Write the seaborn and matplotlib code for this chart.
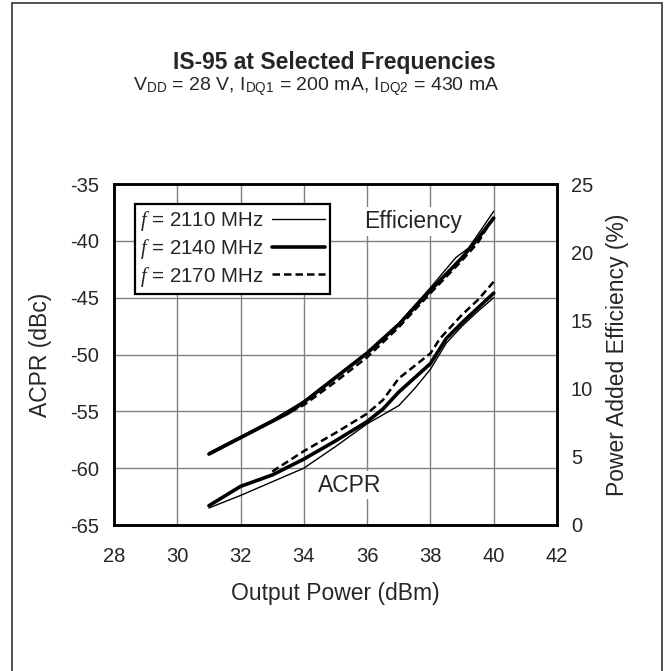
import numpy as np
import pandas as pd
import matplotlib
matplotlib.use("Agg")
import matplotlib.pyplot as plt
from matplotlib.lines import Line2D
from matplotlib.patches import Rectangle
import seaborn as sns

# ACPR (dBc) vs output power, per frequency
acpr_2110_x = [31, 32, 33, 34, 35, 36, 37, 37.5, 38, 38.5, 39, 39.5, 40]
acpr_2110_y = [-63.5, -62.4, -61.2, -60.0, -58.1, -56.1, -54.5, -53.0, -51.3, -49.0, -47.5, -46.2, -45.0]
acpr_2140_x = [31, 32, 33, 34, 35, 36, 36.5, 37, 38, 38.5, 39, 39.5, 40]
acpr_2140_y = [-63.3, -61.6, -60.6, -59.2, -57.6, -55.9, -54.8, -53.3, -50.8, -48.6, -47.2, -45.9, -44.6]
acpr_2170_x = [33, 34, 35, 36, 36.5, 37, 38, 38.3, 39, 39.5, 40]
acpr_2170_y = [-60.3, -58.5, -56.9, -55.2, -54.0, -52.1, -49.9, -48.6, -46.5, -45.2, -43.6]

# Power added efficiency (%) vs output power, per frequency
eff_2110_x = [31, 32, 33, 34, 35, 36, 37, 38, 38.8, 39.2, 39.5, 40]
eff_2110_y = [5.3, 6.5, 7.7, 9.1, 10.9, 12.7, 14.8, 17.4, 19.6, 20.3, 21.3, 23.0]
eff_2140_x = [31, 32, 33, 33.5, 34, 35, 36, 37, 38, 39, 39.5, 40]
eff_2140_y = [5.2, 6.4, 7.6, 8.2, 9.0, 10.8, 12.6, 14.7, 17.2, 19.6, 21.0, 22.5]
eff_2170_x = [31, 32, 33, 34, 35, 36, 37, 38, 39, 39.5, 40]
eff_2170_y = [5.2, 6.4, 7.6, 8.8, 10.5, 12.3, 14.5, 17.0, 19.4, 20.7, 22.6]

freq_labels = ["2110", "2140", "2170"]
x_ticks = [28, 30, 32, 34, 36, 38, 40, 42]
acpr_ticks = [-35, -40, -45, -50, -55, -60, -65]
eff_ticks = [0, 5, 10, 15, 20, 25]

sns.set_style("white")
plt.rcParams['font.family'] = ['Liberation Sans', 'DejaVu Sans']
plt.rcParams['axes.unicode_minus'] = False
plt.rcParams['mathtext.fontset'] = 'custom'
plt.rcParams['mathtext.rm'] = 'Liberation Sans'
plt.rcParams['mathtext.it'] = 'Liberation Serif:italic'

styles = {
    "2110": dict(lw=1.0, ls='-'),
    "2140": dict(lw=2.6, ls='-'),
    "2170": dict(lw=1.8, ls=(0, (3, 1.6))),
}

fig = plt.figure(figsize=(6.65, 6.71), dpi=100)
fig.patches.append(Rectangle((12 / 665, -0.01), 650 / 665, 1 - 2.5 / 671 + 0.01,
                             transform=fig.transFigure, fill=False,
                             edgecolor='#333333', lw=1.2))
ax = fig.add_axes([114 / 665, 1 - 525 / 671, 443 / 665, 341 / 671])
ax2 = ax.twinx()

acpr = [(acpr_2110_x, acpr_2110_y), (acpr_2140_x, acpr_2140_y), (acpr_2170_x, acpr_2170_y)]
eff = [(eff_2110_x, eff_2110_y), (eff_2140_x, eff_2140_y), (eff_2170_x, eff_2170_y)]
for f, (xa, ya), (xe, ye) in zip(freq_labels, acpr, eff):
    st = styles[f]
    sns.lineplot(x=xa, y=ya, ax=ax, color='k', lw=st['lw'], ls=st['ls'], zorder=3)
    sns.lineplot(x=xe, y=ye, ax=ax2, color='k', lw=st['lw'], ls=st['ls'], zorder=3)

ax.set_xlim(28, 42)
ax.set_ylim(-65, -35)
ax2.set_ylim(0, 25)
ax.set_xticks(x_ticks)
ax.set_yticks(acpr_ticks)
ax2.set_yticks(eff_ticks)
ax.grid(True, color='#808080', lw=1.0)
ax.set_axisbelow(True)
ax.tick_params(axis='x', length=0, labelsize=14.5, pad=16)
ax.tick_params(axis='y', length=0, labelsize=14.5, pad=11)
ax2.tick_params(length=0, labelsize=14.5, pad=10)
for a in (ax, ax2):
    for s in a.spines.values():
        s.set_color('k')
        s.set_linewidth(1.8)

ax.set_xlabel("Output Power (dBm)", fontsize=16.5)
ax.set_ylabel("ACPR (dBc)", fontsize=16.5)
ax2.set_ylabel("Power Added Efficiency (%)", fontsize=16.5)
ax.xaxis.set_label_coords(0.5, -0.166)
ax.yaxis.set_label_coords(-0.14, 0.5)
ax2.yaxis.set_label_coords(1.11, 0.5)

bg = dict(facecolor='white', edgecolor='none', pad=2)
ax.text(35.9, -38.3, "Efficiency", fontsize=16.5, ha='left', va='center', bbox=bg, zorder=4)
ax.text(35.45, -61.5, "ACPR", fontsize=16.5, ha='center', va='center', bbox=bg, zorder=4)

handles = [Line2D([], [], color='k', lw=styles[f]['lw'], ls=styles[f]['ls']) for f in freq_labels]
labels = [r"$\mathit{f}$ = %s MHz" % f for f in freq_labels]
leg = ax2.legend(handles, labels, loc='upper left', bbox_to_anchor=(21 / 443, 1 - 20 / 341),
                 markerfirst=False, fancybox=False, framealpha=1, edgecolor='k',
                 fontsize=14.8, handlelength=2.6, handletextpad=0.4, borderpad=0.25,
                 labelspacing=0.18, borderaxespad=0)
leg.get_frame().set_linewidth(1.6)

fig.text(334 / 665, 1 - 69 / 671, "IS-95 at Selected Frequencies", fontsize=16.5,
         fontweight='bold', ha='center', va='baseline')
fig.text(316 / 665, 1 - 90 / 671,
         r"V$_{\mathrm{DD}}$ = 28 V, I$_{\mathrm{DQ1}}$ = 200 mA, I$_{\mathrm{DQ2}}$ = 430 mA",
         fontsize=14, ha='center', va='baseline')

fig.savefig("out.png", dpi=100)
